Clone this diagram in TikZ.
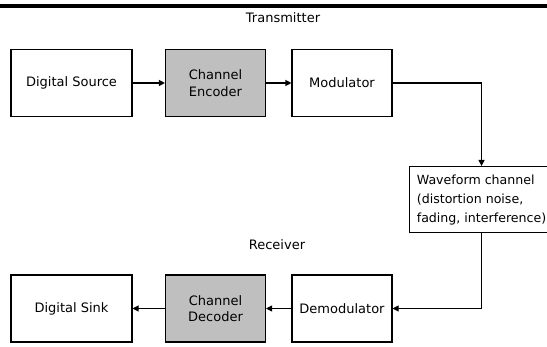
\documentclass[tikz,border=0pt]{standalone}
\usepackage{fontspec}
\setmainfont{DejaVu Sans}
\usetikzlibrary{arrows.meta}
\tikzset{
  blk/.style={draw, line width=1.1pt, minimum width=100pt, minimum height=67pt,
    inner sep=0pt, align=center, font=\fontsize{13}{16.5}\selectfont},
  gblk/.style={blk, fill=black!25},
  flow/.style={line width=1.1pt, -{Triangle[length=6pt,width=6pt]}},
  lbl/.style={font=\fontsize{13}{16}\selectfont},
}
\begin{document}
\begin{tikzpicture}[x=1pt,y=-1pt]
  \useasboundingbox (0,0) rectangle (547,347);
  \clip (0,0) rectangle (547,347);
  % rule at the top of the page
  \fill (0,4.5) rectangle (547,8.5);
  % transmitter row
  \node[lbl] (tx) at (283,18) {Transmitter};
  \node[blk, minimum width=121pt] (src) at (71.5,83) {Digital Source};
  \node[gblk] (enc) at (215.5,83) {Channel\\Encoder};
  \node[blk] (mod) at (342,83) {Modulator};
  % channel (runs past the right edge)
  \node[blk, anchor=north west, minimum width=144pt, minimum height=66pt,
    inner xsep=6pt, align=left, font=\fontsize{12.6}{19}\selectfont]
    (wave) at (409,166)
    {Waveform channel\\(distortion noise,\\fading, interference)};
  % receiver row
  \node[lbl] (rx) at (277,245) {Receiver};
  \node[blk, minimum width=121pt] (snk) at (71.5,308.5) {Digital Sink};
  \node[gblk] (dec) at (215.5,308.5) {Channel\\Decoder};
  \node[blk] (dem) at (342,308.5) {Demodulator};
  % connectors
  \foreach \a/\b in {src/enc,enc/mod,dem/dec,dec/snk}
    \draw[flow] (\a) -- (\b);
  \draw[flow] (mod) -| (wave);
  \draw[flow] (wave) |- (dem);
\end{tikzpicture}
\end{document}
